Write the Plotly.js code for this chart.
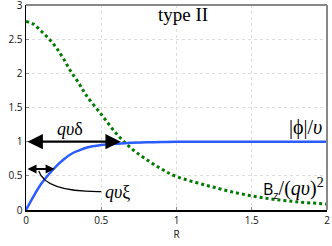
<!DOCTYPE html>
<html><head><meta charset="utf-8">
<script src="https://cdn.plot.ly/plotly-3.0.1.min.js"></script>
<style>html,body{margin:0;padding:0;background:#fff}#p{width:332px;height:246px}</style>
</head><body><div id="p"></div>
<script>
const R = [0,0.05,0.1,0.15,0.2,0.25,0.3,0.35,0.4,0.5,0.6,0.7,0.8,0.9,1.0,1.2,1.4,1.6,1.8,2.0];
const phi = [0,0.2,0.38,0.52,0.64,0.74,0.82,0.87,0.91,0.95,0.97,0.985,0.99,0.995,1,1,1,1,1,1];
const Bz = [2.76,2.72,2.62,2.51,2.38,2.21,2.02,1.86,1.68,1.40,1.12,0.90,0.74,0.60,0.49,0.36,0.25,0.17,0.12,0.087];
const xTicks = [0,0.5,1,1.5,2];
const xTickText = ['0','0.5','1','1.5','2'];
const yTicks = [0,0.5,1,1.5,2,2.5,3];
const yTickText = ['0','0.5','1','1.5','2','2.5','3'];
const deltaLen = 0.63, xiLen = 0.19;

const serif = 'Liberation Serif';
const traces = [
  {x:R, y:Bz, mode:'lines', line:{color:'#007a00', width:3, dash:'dot', shape:'spline'}, hoverinfo:'skip'},
  {x:R, y:phi, mode:'lines', line:{color:'#2a5cff', width:2.5, shape:'spline'}, hoverinfo:'skip'}
];
const layout = {
  width:332, height:246,
  margin:{l:26, r:5, t:5, b:36},
  paper_bgcolor:'#fff', plot_bgcolor:'#fff',
  showlegend:false,
  xaxis:{range:[0,2], tickvals:xTicks, ticktext:xTickText, showline:true, linecolor:'#000', linewidth:1.5,
    ticks:'inside', ticklen:3, tickcolor:'#888', showgrid:true, gridcolor:'#ddd', griddash:'dot', gridwidth:1,
    zeroline:false, ticklabeloverflow:'allow', tickfont:{family:'Open Sans', size:10, color:'#111'},
    title:{text:'R', font:{family:'Open Sans', size:10, color:'#111'}, standoff:2}},
  yaxis:{range:[0,3], tickvals:yTicks, ticktext:yTickText, showline:true, linecolor:'#000', linewidth:1.5,
    ticks:'inside', ticklen:3, tickcolor:'#888', showgrid:true, gridcolor:'#ddd', griddash:'dot', gridwidth:1,
    zeroline:false, ticklabeloverflow:'allow', tickfont:{family:'Open Sans', size:10, color:'#111'}},
  shapes:[
    {type:'line', xref:'paper', yref:'paper', x0:0, x1:1, y0:1, y1:1, line:{color:'#888', width:2}},
    {type:'line', xref:'paper', yref:'paper', x0:1, x1:1, y0:0, y1:1, line:{color:'#888', width:2}},
    {type:'path', xref:'x', yref:'y', path:'M 0.085 0.57 Q 0.13 0.26 0.5 0.27', line:{color:'#000', width:1.2}}
  ],
  annotations:[
    {x:deltaLen, y:1.0, ax:0, ay:1.0, axref:'x', ayref:'y', xref:'x', yref:'y', text:'', showarrow:true,
      arrowhead:2, arrowside:'end+start', arrowsize:1.4, arrowwidth:2.2, arrowcolor:'#000'},
    {x:xiLen, y:0.6, ax:0, ay:0.6, axref:'x', ayref:'y', xref:'x', yref:'y', text:'', showarrow:true,
      arrowhead:2, arrowside:'end+start', arrowsize:1, arrowwidth:1.8, arrowcolor:'#000'},
    {x:0.29, y:1.18, xref:'x', yref:'y', text:'<i>qυ</i>δ', showarrow:false, font:{family:serif, size:18, color:'#000'}},
    {x:0.61, y:0.27, xref:'x', yref:'y', text:'<i>qυ</i>ξ', showarrow:false, font:{family:serif, size:18, color:'#000'}},
    {x:1.98, y:1.21, xref:'x', yref:'y', xanchor:'right', text:'|ϕ|/<i>υ</i>', showarrow:false, font:{family:serif, size:20, color:'#000'}},
    {x:1.99, y:0.32, xref:'x', yref:'y', xanchor:'right', text:'<span style="font-family:Open Sans;font-size:16px">B<sub>z</sub></span>/(<i>qυ</i>)<sup>2</sup>', showarrow:false, font:{family:serif, size:20, color:'#000'}},
    {x:1.04, y:2.86, xref:'x', yref:'y', text:'type II', showarrow:false, font:{family:serif, size:19, color:'#000'}}
  ]
};
Plotly.newPlot('p', traces, layout, {staticPlot:true, displayModeBar:false});
</script></body></html>
